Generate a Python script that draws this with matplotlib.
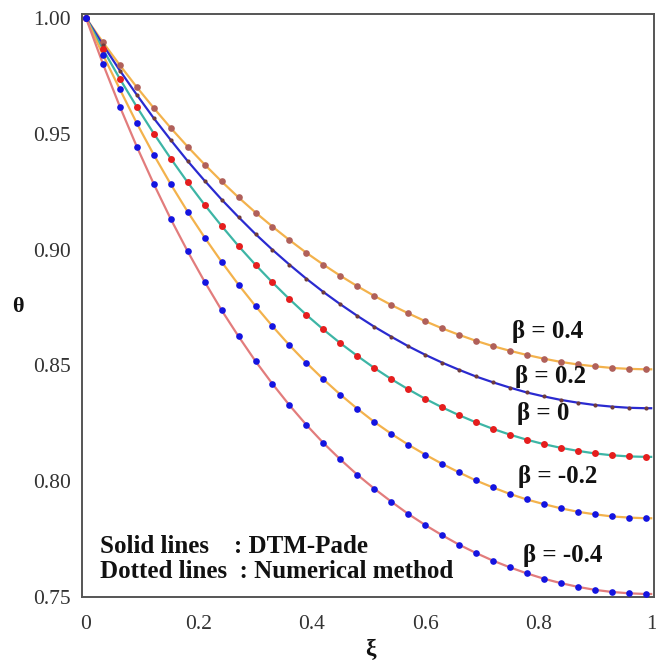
import matplotlib
matplotlib.use("Agg")
import matplotlib.pyplot as plt
import numpy as np

# ---------------- data ----------------
xi = [0.00, 0.03, 0.06, 0.09, 0.12, 0.15, 0.18, 0.21, 0.24, 0.27, 0.30, 0.33,
      0.36, 0.39, 0.42, 0.45, 0.48, 0.51, 0.54, 0.57, 0.60, 0.63, 0.66, 0.69,
      0.72, 0.75, 0.78, 0.81, 0.84, 0.87, 0.90, 0.93, 0.96, 0.99, 1.00]

theta_b04 = [1.0000, 0.9895, 0.9796, 0.9701, 0.9611, 0.9525, 0.9444, 0.9367,
             0.9294, 0.9225, 0.9160, 0.9099, 0.9041, 0.8986, 0.8935, 0.8887,
             0.8842, 0.8800, 0.8761, 0.8725, 0.8691, 0.8660, 0.8632, 0.8606,
             0.8583, 0.8563, 0.8545, 0.8529, 0.8515, 0.8504, 0.8496, 0.8489,
             0.8485, 0.8483, 0.8483]
theta_b02 = [1.0000, 0.9884, 0.9773, 0.9668, 0.9567, 0.9473, 0.9382, 0.9297,
             0.9216, 0.9140, 0.9067, 0.8999, 0.8935, 0.8874, 0.8817, 0.8764,
             0.8714, 0.8667, 0.8624, 0.8583, 0.8546, 0.8512, 0.8481, 0.8452,
             0.8427, 0.8404, 0.8383, 0.8366, 0.8351, 0.8339, 0.8329, 0.8322,
             0.8317, 0.8315, 0.8315]
theta_b00 = [1.0000, 0.9865, 0.9737, 0.9616, 0.9501, 0.9393, 0.9290, 0.9193,
             0.9102, 0.9015, 0.8934, 0.8858, 0.8786, 0.8718, 0.8655, 0.8596,
             0.8541, 0.8489, 0.8441, 0.8397, 0.8356, 0.8319, 0.8285, 0.8254,
             0.8226, 0.8201, 0.8179, 0.8160, 0.8144, 0.8131, 0.8120, 0.8112,
             0.8107, 0.8105, 0.8105]
theta_bm02 = [1.0000, 0.9841, 0.9692, 0.9545, 0.9409, 0.9282, 0.9163, 0.9052,
              0.8947, 0.8848, 0.8756, 0.8669, 0.8587, 0.8511, 0.8440, 0.8374,
              0.8313, 0.8256, 0.8205, 0.8158, 0.8115, 0.8075, 0.8038, 0.8003,
              0.7973, 0.7945, 0.7921, 0.7901, 0.7883, 0.7868, 0.7857, 0.7848,
              0.7843, 0.7840, 0.7840]
theta_bm04 = [1.0000, 0.9802, 0.9617, 0.9444, 0.9283, 0.9132, 0.8992, 0.8861,
              0.8738, 0.8625, 0.8518, 0.8420, 0.8328, 0.8243, 0.8165, 0.8094,
              0.8028, 0.7968, 0.7912, 0.7859, 0.7811, 0.7767, 0.7726, 0.7690,
              0.7657, 0.7628, 0.7602, 0.7579, 0.7560, 0.7544, 0.7531, 0.7522,
              0.7516, 0.7513, 0.7513]

series = [
    ("β = 0.4", theta_b04, "#F3B24C", "#B0605A", 4.8, (0.7535, 0.8645)),
    ("β = 0.2", theta_b02, "#2A2AD0", "#6E3C3C", 3.0, (0.7593, 0.8451)),
    ("β = 0", theta_b00, "#3DB5A5", "#E51E1E", 5.0, (0.7623, 0.8294)),
    ("β = -0.2", theta_bm02, "#F3B24C", "#1414E0", 4.8, (0.7646, 0.8019)),
    ("β = -0.4", theta_bm04, "#E27C7C", "#1414E0", 4.8, (0.7729, 0.7681)),
]

xticks = [0, 0.2, 0.4, 0.6, 0.8, 1]
xtick_labels = ["0", "0.2", "0.4", "0.6", "0.8", "1"]
yticks = [0.75, 0.80, 0.85, 0.90, 0.95, 1.00]
ytick_labels = ["0.75", "0.80", "0.85", "0.90", "0.95", "1.00"]

# ---------------- figure ----------------
serif = ["Liberation Serif", "DejaVu Serif"]
plt.rcParams["font.family"] = serif

fig = plt.figure(figsize=(6.56, 6.64), dpi=100)
ax = fig.add_axes([82 / 656, 67 / 664, 572 / 656, 583 / 664])

x = np.array(xi)
for label, th, lc, mc, ms, pos in series:
    th = np.array(th)
    ax.plot(x, th, color=lc, lw=1.6, zorder=2)
    ax.plot(x[:-1], th[:-1], ls="none", marker="o", ms=ms, color=mc,
            markeredgewidth=0, zorder=3)
    ax.text(pos[0], pos[1], label, fontsize=18, fontweight="bold",
            ha="left", va="center", color="#111111", zorder=4)

ax.text(0.025, 0.7720, "Solid lines    : DTM-Pade", fontsize=18,
        fontweight="bold", ha="left", va="center", color="#111111")
ax.text(0.025, 0.7608, "Dotted lines  : Numerical method", fontsize=18,
        fontweight="bold", ha="left", va="center", color="#111111")

ax.set_xlim(-0.007, 1.005)
ax.set_ylim(0.75, 1.0017)
ax.set_xticks(xticks)
ax.set_xticklabels(xtick_labels)
ax.set_yticks(yticks)
ax.set_yticklabels(ytick_labels)
ax.tick_params(axis="both", length=0, labelsize=15.5, colors="#333333")
ax.tick_params(axis="x", pad=13)
ax.tick_params(axis="y", pad=8)

for sp in ax.spines.values():
    sp.set_color("#555555")
    sp.set_linewidth(1.4)

ax.set_xlabel("ξ", fontsize=17, fontweight="bold", color="#111111",
              va="center", ha="center")
ax.xaxis.set_label_coords((370 - 82) / 572, (597 - 649) / 583)
ax.set_ylabel("θ", fontsize=16, fontweight="bold", rotation=0,
              color="#111111", va="center", ha="center")
ax.yaxis.set_label_coords((18 - 82) / 572, (597 - 307) / 583)

fig.savefig("out.png", dpi=100)
